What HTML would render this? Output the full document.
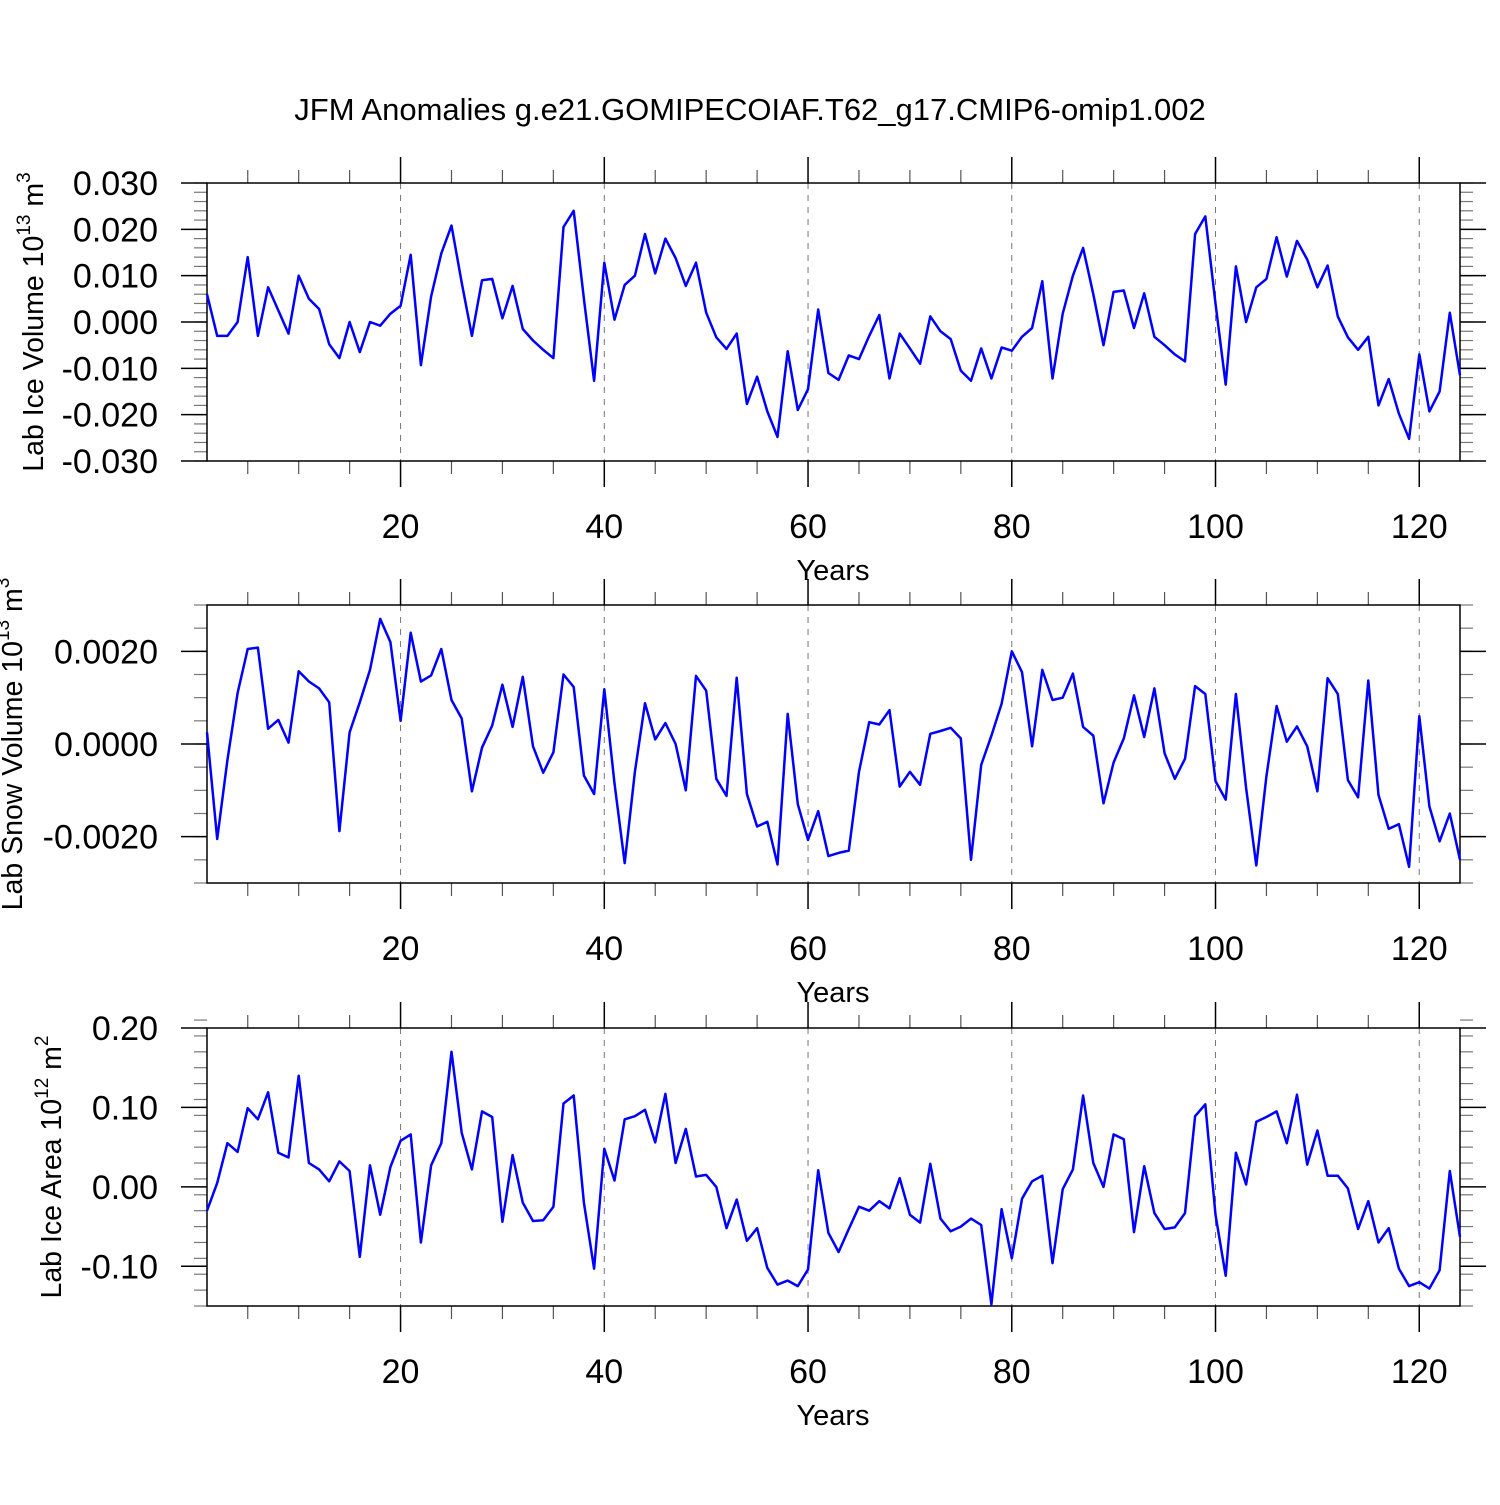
<!DOCTYPE html>
<html><head><meta charset="utf-8"><style>
body{margin:0;background:#fff}
svg{font-family:"Liberation Sans",sans-serif}
</style></head><body>
<svg id="c" width="1500" height="1500" xmlns="http://www.w3.org/2000/svg">
<text x="750" y="120" font-size="31" text-anchor="middle">JFM Anomalies g.e21.GOMIPECOIAF.T62_g17.CMIP6-omip1.002</text>
</svg>
<script>
const iceVolume=[0.006,-0.003,-0.003,0.000,0.014,-0.003,0.0075,0.0025,-0.0025,0.010,0.005,0.0028,-0.0048,-0.0078,0.0,-0.0065,0.0,-0.0008,0.0018,0.0035,0.0145,-0.0093,0.0055,0.0148,0.0208,0.0085,-0.003,0.009,0.0093,0.0008,0.0078,-0.0015,-0.004,-0.006,-0.0078,0.0205,0.024,0.005,-0.0127,0.0128,0.0005,0.008,0.010,0.019,0.0105,0.018,0.0138,0.0078,0.0128,0.002,-0.0033,-0.0058,-0.0025,-0.0177,-0.0118,-0.0193,-0.0248,-0.0063,-0.019,-0.0145,0.0027,-0.011,-0.0125,-0.0072,-0.008,-0.003,0.0015,-0.0122,-0.0025,-0.0057,-0.009,0.0012,-0.002,-0.0037,-0.0105,-0.0127,-0.0057,-0.0122,-0.0055,-0.0062,-0.0032,-0.0013,0.0088,-0.0122,0.0018,0.010,0.016,0.006,-0.005,0.0065,0.0068,-0.0013,0.0062,-0.0032,-0.005,-0.007,-0.0085,0.019,0.0228,0.004,-0.0135,0.012,0.0,0.0075,0.0093,0.0183,0.0098,0.0175,0.0135,0.0075,0.0122,0.0012,-0.0033,-0.006,-0.0032,-0.018,-0.0123,-0.0198,-0.0252,-0.007,-0.0193,-0.015,0.002,-0.0115];
const snowVolume=[0.25,-2.05,-0.35,1.1,2.05,2.08,0.33,0.52,0.03,1.57,1.35,1.2,0.9,-1.88,0.25,0.9,1.6,2.7,2.2,0.5,2.4,1.35,1.48,2.05,0.95,0.55,-1.02,-0.08,0.4,1.28,0.37,1.45,-0.05,-0.62,-0.18,1.5,1.23,-0.68,-1.08,1.18,-0.85,-2.57,-0.6,0.88,0.1,0.45,0.0,-1.0,1.47,1.15,-0.75,-1.12,1.43,-1.08,-1.78,-1.68,-2.6,0.65,-1.3,-2.07,-1.45,-2.42,-2.35,-2.3,-0.6,0.47,0.42,0.73,-0.92,-0.6,-0.88,0.22,0.28,0.35,0.12,-2.5,-0.45,0.18,0.87,2.0,1.55,-0.05,1.6,0.95,1.0,1.52,0.37,0.18,-1.28,-0.4,0.12,1.05,0.15,1.2,-0.2,-0.75,-0.32,1.25,1.08,-0.8,-1.2,1.08,-0.95,-2.62,-0.7,0.82,0.05,0.38,-0.05,-1.02,1.42,1.08,-0.78,-1.15,1.37,-1.1,-1.83,-1.73,-2.65,0.6,-1.35,-2.1,-1.5,-2.5].map(v=>v/1000);
const iceArea=[-0.03,0.005,0.055,0.044,0.099,0.085,0.119,0.043,0.037,0.14,0.03,0.022,0.007,0.032,0.02,-0.088,0.027,-0.035,0.025,0.058,0.066,-0.07,0.027,0.055,0.17,0.068,0.022,0.095,0.088,-0.044,0.04,-0.02,-0.043,-0.042,-0.025,0.105,0.115,-0.02,-0.103,0.048,0.008,0.085,0.089,0.097,0.056,0.117,0.03,0.073,0.013,0.015,0.0,-0.052,-0.016,-0.068,-0.052,-0.102,-0.123,-0.118,-0.125,-0.104,0.021,-0.058,-0.082,-0.053,-0.025,-0.03,-0.018,-0.027,0.011,-0.035,-0.045,0.029,-0.04,-0.056,-0.05,-0.04,-0.048,-0.148,-0.028,-0.09,-0.015,0.007,0.014,-0.096,-0.003,0.022,0.115,0.03,0.0,0.066,0.06,-0.057,0.026,-0.033,-0.053,-0.051,-0.033,0.089,0.104,-0.035,-0.112,0.043,0.003,0.082,0.088,0.095,0.055,0.116,0.028,0.071,0.014,0.014,-0.002,-0.053,-0.018,-0.07,-0.052,-0.103,-0.125,-0.12,-0.128,-0.105,0.02,-0.063];
const xTicks=[20,40,60,80,100,120];
const iceVolTicks=[0.03,0.02,0.01,0,-0.01,-0.02,-0.03];
const iceVolLabels=["0.030","0.020","0.010","0.000","-0.010","-0.020","-0.030"];
const snowTicks=[0.002,0,-0.002];
const snowLabels=["0.0020","0.0000","-0.0020"];
const areaTicks=[0.2,0.1,0,-0.1];
const areaLabels=["0.20","0.10","0.00","-0.10"];

const svg=document.getElementById('c');
const NS='http://www.w3.org/2000/svg';
function mk(tag,attrs,parent){const e=document.createElementNS(NS,tag);for(const k in attrs)e.setAttribute(k,attrs[k]);(parent||svg).appendChild(e);return e;}
const X0=207,X1=1460,XMIN=1,XMAX=124;
function xs(v){return X0+(v-XMIN)/(XMAX-XMIN)*(X1-X0);}

function panel(name,top,ymin,ymax,minorStep,ticks,labels,data,ytitle,sup,unitSup,titleX){
  const bot=top+278;
  const g=mk('g',{});
  
  
  const ys=v=>bot-(v-ymin)/(ymax-ymin)*(bot-top);
  xTicks.forEach(t=>{const l=mk('line',{x1:xs(t),x2:xs(t),y1:top,y2:bot,stroke:'#777','stroke-width':1,'stroke-dasharray':'6,6'},g);
    
    });
  for(let t=5;t<=XMAX;t+=5){if(t%20===0)continue;
    mk('line',{x1:xs(t),x2:xs(t),y1:top-13,y2:top,stroke:'#555','stroke-width':1.2},g);
    mk('line',{x1:xs(t),x2:xs(t),y1:bot,y2:bot+13,stroke:'#555','stroke-width':1.2},g);}
  xTicks.forEach(t=>{
    mk('line',{x1:xs(t),x2:xs(t),y1:top-26,y2:top,stroke:'#000','stroke-width':1.5},g);
    mk('line',{x1:xs(t),x2:xs(t),y1:bot,y2:bot+26,stroke:'#000','stroke-width':1.5},g);
    const tx=mk('text',{x:xs(t),y:bot+77,'font-size':34,'text-anchor':'middle'},g);tx.textContent=t;
    
    
  });
  const n=Math.round((ymax-ymin)/minorStep);
  for(let i=0;i<=n;i++){const v=ymin+i*minorStep;const y=ys(v);
    mk('line',{x1:X0-13,x2:X0,y1:y,y2:y,stroke:'#777','stroke-width':1.2},g);
    mk('line',{x1:X1,x2:X1+13,y1:y,y2:y,stroke:'#777','stroke-width':1.2},g);}
  ticks.forEach((t,i)=>{const y=ys(t);
    mk('line',{x1:X0-26,x2:X0,y1:y,y2:y,stroke:'#000','stroke-width':1.5},g);
    mk('line',{x1:X1,x2:X1+26,y1:y,y2:y,stroke:'#000','stroke-width':1.5},g);
    const tx=mk('text',{x:158,y:y+12,'font-size':34,'text-anchor':'end'},g);tx.textContent=labels[i];
    
    
  });
  const r=mk('rect',{x:X0,y:top,width:X1-X0,height:bot-top,fill:'none',stroke:'#000','stroke-width':1.5},g);
  
  
  const pts=data.map((v,i)=>xs(i+1).toFixed(1)+','+ys(v).toFixed(1)).join(' ');
  const pl=mk('polyline',{points:pts,fill:'none',stroke:'#00f','stroke-width':2.5,'stroke-linejoin':'round'},g);
  
  
  const xt=mk('text',{x:833,y:bot+119,'font-size':29,'text-anchor':'middle'},g);xt.textContent='Years';
  
  
  const cy=(top+bot)/2;
  const yt=mk('text',{x:titleX,y:cy,'font-size':28.5,'text-anchor':'middle',transform:`rotate(-90 ${titleX} ${cy})`},g);
  
  
  yt.innerHTML=ytitle+' 10<tspan font-size="19" dy="-13">'+sup+'</tspan><tspan dy="13"> m</tspan><tspan font-size="19" dy="-13">'+unitSup+'</tspan>';
}
panel('ice-volume',183,-0.03,0.03,0.002,iceVolTicks,iceVolLabels,iceVolume,'Lab Ice Volume','13','3',43);
panel('snow-volume',605,-0.003,0.003,0.0005,snowTicks,snowLabels,snowVolume,'Lab Snow Volume','13','3',22);
panel('ice-area',1028,-0.15,0.2,0.02,areaTicks,areaLabels,iceArea,'Lab Ice Area','12','2',61);
</script>
</body></html>
